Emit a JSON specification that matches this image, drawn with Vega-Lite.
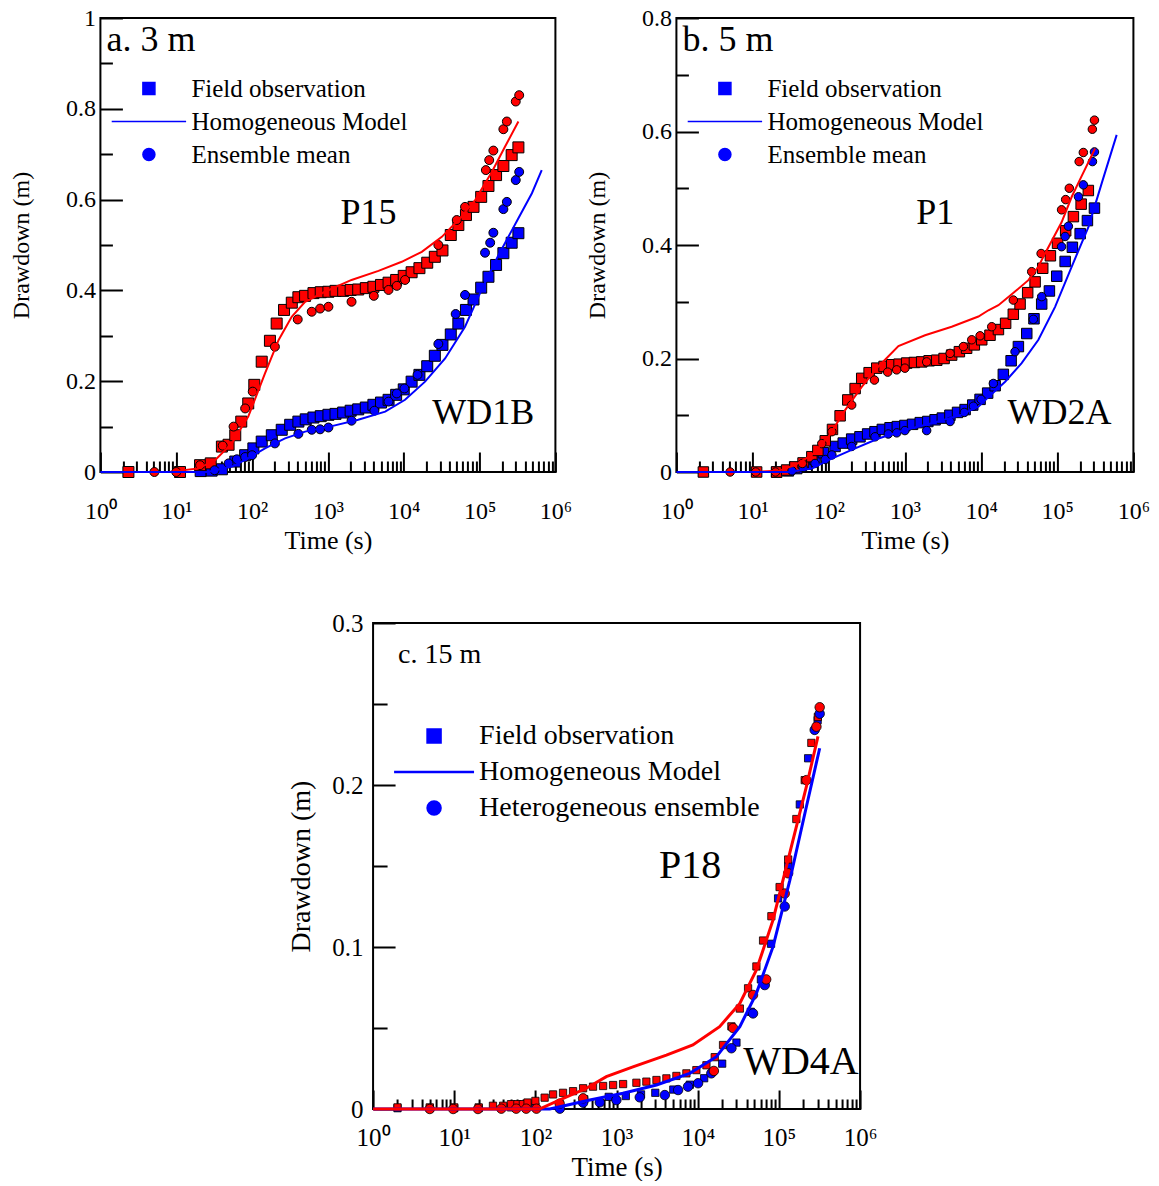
{
  "$schema": "https://vega.github.io/schema/vega-lite/v6.json",
  "padding": {"left": 8, "top": 5, "right": 0, "bottom": 0},
  "config": {
    "view": {"stroke": "#000000", "strokeWidth": 2},
    "font": "Liberation Serif",
    "text": {"font": "Liberation Serif", "color": "#000000"}
  },
  "datasets": {
    "a_model": [
      {"t": 8, "d": 0, "well": "P15"}, {"t": 19.6, "d": 0.008, "well": "P15"}, {"t": 32.5, "d": 0.026, "well": "P15"}, {"t": 54, "d": 0.063, "well": "P15"}, {"t": 89, "d": 0.122, "well": "P15"}, {"t": 148, "d": 0.217, "well": "P15"}, {"t": 224, "d": 0.291, "well": "P15"}, {"t": 333, "d": 0.342, "well": "P15"}, {"t": 500, "d": 0.375, "well": "P15"}, {"t": 915, "d": 0.397, "well": "P15"}, {"t": 2050, "d": 0.423, "well": "P15"}, {"t": 4640, "d": 0.443, "well": "P15"}, {"t": 9400, "d": 0.463, "well": "P15"}, {"t": 17300, "d": 0.485, "well": "P15"}, {"t": 31800, "d": 0.518, "well": "P15"}, {"t": 52500, "d": 0.555, "well": "P15"}, {"t": 87500, "d": 0.599, "well": "P15"}, {"t": 145000, "d": 0.661, "well": "P15"}, {"t": 217000, "d": 0.717, "well": "P15"}, {"t": 325000, "d": 0.772, "well": "P15"},
      {"t": 1, "d": 0, "well": "WD1B"}, {"t": 26, "d": 0, "well": "WD1B"}, {"t": 54, "d": 0.012, "well": "WD1B"}, {"t": 89, "d": 0.03, "well": "WD1B"}, {"t": 148, "d": 0.052, "well": "WD1B"}, {"t": 272, "d": 0.074, "well": "WD1B"}, {"t": 500, "d": 0.089, "well": "WD1B"}, {"t": 1125, "d": 0.101, "well": "WD1B"}, {"t": 2510, "d": 0.115, "well": "WD1B"}, {"t": 5690, "d": 0.133, "well": "WD1B"}, {"t": 10400, "d": 0.159, "well": "WD1B"}, {"t": 19100, "d": 0.199, "well": "WD1B"}, {"t": 35100, "d": 0.25, "well": "WD1B"}, {"t": 64300, "d": 0.32, "well": "WD1B"}, {"t": 106000, "d": 0.401, "well": "WD1B"}, {"t": 178000, "d": 0.478, "well": "WD1B"}, {"t": 325000, "d": 0.559, "well": "WD1B"}, {"t": 490000, "d": 0.614, "well": "WD1B"}, {"t": 660000, "d": 0.665, "well": "WD1B"}
    ],
    "a_sq": [
      {"t": 21, "d": 0.002, "well": "WD1B", "series": "Field observation"}, {"t": 29.3, "d": 0.003, "well": "WD1B", "series": "Field observation"}, {"t": 40, "d": 0.006, "well": "WD1B", "series": "Field observation"}, {"t": 60, "d": 0.023, "well": "WD1B", "series": "Field observation"}, {"t": 81, "d": 0.037, "well": "WD1B", "series": "Field observation"}, {"t": 104, "d": 0.052, "well": "WD1B", "series": "Field observation"}, {"t": 134, "d": 0.067, "well": "WD1B", "series": "Field observation"}, {"t": 182, "d": 0.081, "well": "WD1B", "series": "Field observation"}, {"t": 246, "d": 0.093, "well": "WD1B", "series": "Field observation"}, {"t": 318, "d": 0.104, "well": "WD1B", "series": "Field observation"}, {"t": 408, "d": 0.111, "well": "WD1B", "series": "Field observation"}, {"t": 510, "d": 0.116, "well": "WD1B", "series": "Field observation"}, {"t": 645, "d": 0.12, "well": "WD1B", "series": "Field observation"}, {"t": 804, "d": 0.123, "well": "WD1B", "series": "Field observation"}, {"t": 1016, "d": 0.126, "well": "WD1B", "series": "Field observation"}, {"t": 1260, "d": 0.128, "well": "WD1B", "series": "Field observation"}, {"t": 1590, "d": 0.131, "well": "WD1B", "series": "Field observation"}, {"t": 1995, "d": 0.135, "well": "WD1B", "series": "Field observation"}, {"t": 2510, "d": 0.138, "well": "WD1B", "series": "Field observation"}, {"t": 3160, "d": 0.142, "well": "WD1B", "series": "Field observation"}, {"t": 3980, "d": 0.148, "well": "WD1B", "series": "Field observation"}, {"t": 5010, "d": 0.153, "well": "WD1B", "series": "Field observation"}, {"t": 6310, "d": 0.159, "well": "WD1B", "series": "Field observation"}, {"t": 7940, "d": 0.17, "well": "WD1B", "series": "Field observation"}, {"t": 10000, "d": 0.182, "well": "WD1B", "series": "Field observation"}, {"t": 12700, "d": 0.199, "well": "WD1B", "series": "Field observation"}, {"t": 16100, "d": 0.214, "well": "WD1B", "series": "Field observation"}, {"t": 20400, "d": 0.233, "well": "WD1B", "series": "Field observation"}, {"t": 25700, "d": 0.256, "well": "WD1B", "series": "Field observation"}, {"t": 32400, "d": 0.28, "well": "WD1B", "series": "Field observation"}, {"t": 41700, "d": 0.303, "well": "WD1B", "series": "Field observation"}, {"t": 52500, "d": 0.327, "well": "WD1B", "series": "Field observation"}, {"t": 66100, "d": 0.357, "well": "WD1B", "series": "Field observation"}, {"t": 83200, "d": 0.38, "well": "WD1B", "series": "Field observation"}, {"t": 105000, "d": 0.406, "well": "WD1B", "series": "Field observation"}, {"t": 131000, "d": 0.43, "well": "WD1B", "series": "Field observation"}, {"t": 165000, "d": 0.456, "well": "WD1B", "series": "Field observation"}, {"t": 206000, "d": 0.482, "well": "WD1B", "series": "Field observation"}, {"t": 265000, "d": 0.505, "well": "WD1B", "series": "Field observation"}, {"t": 325000, "d": 0.526, "well": "WD1B", "series": "Field observation"},
      {"t": 2.34, "d": 0, "well": "P15", "series": "Field observation"}, {"t": 11.2, "d": 0, "well": "P15", "series": "Field observation"}, {"t": 20.6, "d": 0.015, "well": "P15", "series": "Field observation"}, {"t": 28.5, "d": 0.019, "well": "P15", "series": "Field observation"}, {"t": 40, "d": 0.056, "well": "P15", "series": "Field observation"}, {"t": 49, "d": 0.06, "well": "P15", "series": "Field observation"}, {"t": 60, "d": 0.081, "well": "P15", "series": "Field observation"}, {"t": 72, "d": 0.111, "well": "P15", "series": "Field observation"}, {"t": 89, "d": 0.151, "well": "P15", "series": "Field observation"}, {"t": 107, "d": 0.192, "well": "P15", "series": "Field observation"}, {"t": 134, "d": 0.243, "well": "P15", "series": "Field observation"}, {"t": 172, "d": 0.289, "well": "P15", "series": "Field observation"}, {"t": 211, "d": 0.327, "well": "P15", "series": "Field observation"}, {"t": 264, "d": 0.357, "well": "P15", "series": "Field observation"}, {"t": 334, "d": 0.373, "well": "P15", "series": "Field observation"}, {"t": 408, "d": 0.385, "well": "P15", "series": "Field observation"}, {"t": 500, "d": 0.388, "well": "P15", "series": "Field observation"}, {"t": 645, "d": 0.394, "well": "P15", "series": "Field observation"}, {"t": 804, "d": 0.396, "well": "P15", "series": "Field observation"}, {"t": 1016, "d": 0.397, "well": "P15", "series": "Field observation"}, {"t": 1260, "d": 0.399, "well": "P15", "series": "Field observation"}, {"t": 1590, "d": 0.399, "well": "P15", "series": "Field observation"}, {"t": 1995, "d": 0.401, "well": "P15", "series": "Field observation"}, {"t": 2510, "d": 0.402, "well": "P15", "series": "Field observation"}, {"t": 3160, "d": 0.405, "well": "P15", "series": "Field observation"}, {"t": 3980, "d": 0.408, "well": "P15", "series": "Field observation"}, {"t": 5010, "d": 0.412, "well": "P15", "series": "Field observation"}, {"t": 6310, "d": 0.417, "well": "P15", "series": "Field observation"}, {"t": 7940, "d": 0.423, "well": "P15", "series": "Field observation"}, {"t": 10000, "d": 0.432, "well": "P15", "series": "Field observation"}, {"t": 12700, "d": 0.44, "well": "P15", "series": "Field observation"}, {"t": 16100, "d": 0.449, "well": "P15", "series": "Field observation"}, {"t": 20400, "d": 0.461, "well": "P15", "series": "Field observation"}, {"t": 25700, "d": 0.474, "well": "P15", "series": "Field observation"}, {"t": 32400, "d": 0.488, "well": "P15", "series": "Field observation"}, {"t": 41700, "d": 0.522, "well": "P15", "series": "Field observation"}, {"t": 52500, "d": 0.544, "well": "P15", "series": "Field observation"}, {"t": 66100, "d": 0.566, "well": "P15", "series": "Field observation"}, {"t": 83200, "d": 0.584, "well": "P15", "series": "Field observation"}, {"t": 105000, "d": 0.606, "well": "P15", "series": "Field observation"}, {"t": 131000, "d": 0.63, "well": "P15", "series": "Field observation"}, {"t": 165000, "d": 0.654, "well": "P15", "series": "Field observation"}, {"t": 206000, "d": 0.674, "well": "P15", "series": "Field observation"}, {"t": 265000, "d": 0.698, "well": "P15", "series": "Field observation"}, {"t": 325000, "d": 0.715, "well": "P15", "series": "Field observation"}
    ],
    "a_ci": [
      {"t": 32, "d": 0.004, "well": "WD1B", "series": "Ensemble mean"}, {"t": 49, "d": 0.019, "well": "WD1B", "series": "Ensemble mean"}, {"t": 63, "d": 0.028, "well": "WD1B", "series": "Ensemble mean"}, {"t": 81, "d": 0.033, "well": "WD1B", "series": "Ensemble mean"}, {"t": 100, "d": 0.037, "well": "WD1B", "series": "Ensemble mean"}, {"t": 200, "d": 0.063, "well": "WD1B", "series": "Ensemble mean"}, {"t": 408, "d": 0.084, "well": "WD1B", "series": "Ensemble mean"}, {"t": 612, "d": 0.093, "well": "WD1B", "series": "Ensemble mean"}, {"t": 789, "d": 0.094, "well": "WD1B", "series": "Ensemble mean"}, {"t": 1016, "d": 0.098, "well": "WD1B", "series": "Ensemble mean"}, {"t": 2050, "d": 0.113, "well": "WD1B", "series": "Ensemble mean"}, {"t": 4100, "d": 0.135, "well": "WD1B", "series": "Ensemble mean"}, {"t": 6300, "d": 0.155, "well": "WD1B", "series": "Ensemble mean"}, {"t": 8100, "d": 0.173, "well": "WD1B", "series": "Ensemble mean"}, {"t": 10200, "d": 0.184, "well": "WD1B", "series": "Ensemble mean"}, {"t": 15200, "d": 0.214, "well": "WD1B", "series": "Ensemble mean"}, {"t": 28600, "d": 0.282, "well": "WD1B", "series": "Ensemble mean"}, {"t": 48400, "d": 0.348, "well": "WD1B", "series": "Ensemble mean"}, {"t": 64300, "d": 0.39, "well": "WD1B", "series": "Ensemble mean"}, {"t": 118000, "d": 0.483, "well": "WD1B", "series": "Ensemble mean"}, {"t": 138000, "d": 0.505, "well": "WD1B", "series": "Ensemble mean"}, {"t": 152000, "d": 0.527, "well": "WD1B", "series": "Ensemble mean"}, {"t": 206000, "d": 0.579, "well": "WD1B", "series": "Ensemble mean"}, {"t": 229000, "d": 0.595, "well": "WD1B", "series": "Ensemble mean"}, {"t": 300000, "d": 0.643, "well": "WD1B", "series": "Ensemble mean"}, {"t": 333000, "d": 0.661, "well": "WD1B", "series": "Ensemble mean"},
      {"t": 5.15, "d": 0, "well": "P15", "series": "Ensemble mean"}, {"t": 10, "d": 0, "well": "P15", "series": "Ensemble mean"}, {"t": 20.6, "d": 0.015, "well": "P15", "series": "Ensemble mean"}, {"t": 41, "d": 0.058, "well": "P15", "series": "Ensemble mean"}, {"t": 57, "d": 0.1, "well": "P15", "series": "Ensemble mean"}, {"t": 81, "d": 0.14, "well": "P15", "series": "Ensemble mean"}, {"t": 102, "d": 0.177, "well": "P15", "series": "Ensemble mean"}, {"t": 200, "d": 0.276, "well": "P15", "series": "Ensemble mean"}, {"t": 400, "d": 0.336, "well": "P15", "series": "Ensemble mean"}, {"t": 612, "d": 0.353, "well": "P15", "series": "Ensemble mean"}, {"t": 789, "d": 0.36, "well": "P15", "series": "Ensemble mean"}, {"t": 1016, "d": 0.364, "well": "P15", "series": "Ensemble mean"}, {"t": 2050, "d": 0.375, "well": "P15", "series": "Ensemble mean"}, {"t": 4030, "d": 0.388, "well": "P15", "series": "Ensemble mean"}, {"t": 6300, "d": 0.401, "well": "P15", "series": "Ensemble mean"}, {"t": 8100, "d": 0.41, "well": "P15", "series": "Ensemble mean"}, {"t": 10400, "d": 0.423, "well": "P15", "series": "Ensemble mean"}, {"t": 28600, "d": 0.5, "well": "P15", "series": "Ensemble mean"}, {"t": 50000, "d": 0.555, "well": "P15", "series": "Ensemble mean"}, {"t": 64300, "d": 0.584, "well": "P15", "series": "Ensemble mean"}, {"t": 121000, "d": 0.665, "well": "P15", "series": "Ensemble mean"}, {"t": 134000, "d": 0.687, "well": "P15", "series": "Ensemble mean"}, {"t": 152000, "d": 0.708, "well": "P15", "series": "Ensemble mean"}, {"t": 206000, "d": 0.755, "well": "P15", "series": "Ensemble mean"}, {"t": 229000, "d": 0.772, "well": "P15", "series": "Ensemble mean"}, {"t": 300000, "d": 0.816, "well": "P15", "series": "Ensemble mean"}, {"t": 333000, "d": 0.83, "well": "P15", "series": "Ensemble mean"}
    ],
    "a_title": [{"t": 1.2, "d": 0.952, "label": "a. 3 m"}],
    "a_lab": [{"t": 3420, "d": 0.57, "label": "P15"}, {"t": 112000, "d": 0.13, "label": "WD1B"}],
    "b_model": [
      {"t": 10, "d": 0, "well": "P1"}, {"t": 22, "d": 0.002, "well": "P1"}, {"t": 36, "d": 0.012, "well": "P1"}, {"t": 60, "d": 0.03, "well": "P1"}, {"t": 99, "d": 0.062, "well": "P1"}, {"t": 164, "d": 0.109, "well": "P1"}, {"t": 271, "d": 0.15, "well": "P1"}, {"t": 449, "d": 0.186, "well": "P1"}, {"t": 822, "d": 0.222, "well": "P1"}, {"t": 1840, "d": 0.241, "well": "P1"}, {"t": 4110, "d": 0.256, "well": "P1"}, {"t": 9220, "d": 0.274, "well": "P1"}, {"t": 12500, "d": 0.285, "well": "P1"}, {"t": 16900, "d": 0.294, "well": "P1"}, {"t": 27900, "d": 0.318, "well": "P1"}, {"t": 41800, "d": 0.338, "well": "P1"}, {"t": 56600, "d": 0.362, "well": "P1"}, {"t": 69200, "d": 0.385, "well": "P1"}, {"t": 114000, "d": 0.44, "well": "P1"}, {"t": 155000, "d": 0.485, "well": "P1"}, {"t": 190000, "d": 0.51, "well": "P1"}, {"t": 314000, "d": 0.57, "well": "P1"},
      {"t": 1, "d": 0, "well": "WD2A"}, {"t": 30, "d": 0, "well": "WD2A"}, {"t": 60, "d": 0.006, "well": "WD2A"}, {"t": 99, "d": 0.021, "well": "WD2A"}, {"t": 200, "d": 0.039, "well": "WD2A"}, {"t": 449, "d": 0.059, "well": "WD2A"}, {"t": 1000, "d": 0.074, "well": "WD2A"}, {"t": 2250, "d": 0.086, "well": "WD2A"}, {"t": 5030, "d": 0.099, "well": "WD2A"}, {"t": 9220, "d": 0.115, "well": "WD2A"}, {"t": 12500, "d": 0.132, "well": "WD2A"}, {"t": 20700, "d": 0.159, "well": "WD2A"}, {"t": 34100, "d": 0.192, "well": "WD2A"}, {"t": 56600, "d": 0.233, "well": "WD2A"}, {"t": 93700, "d": 0.291, "well": "WD2A"}, {"t": 155000, "d": 0.362, "well": "WD2A"}, {"t": 257000, "d": 0.432, "well": "WD2A"}, {"t": 384000, "d": 0.509, "well": "WD2A"}, {"t": 603000, "d": 0.594, "well": "WD2A"}
    ],
    "b_sq": [
      {"t": 20.7, "d": 0, "well": "WD2A", "series": "Field observation"}, {"t": 29.5, "d": 0.002, "well": "WD2A", "series": "Field observation"}, {"t": 38, "d": 0.006, "well": "WD2A", "series": "Field observation"}, {"t": 51, "d": 0.014, "well": "WD2A", "series": "Field observation"}, {"t": 66, "d": 0.022, "well": "WD2A", "series": "Field observation"}, {"t": 85, "d": 0.034, "well": "WD2A", "series": "Field observation"}, {"t": 121, "d": 0.045, "well": "WD2A", "series": "Field observation"}, {"t": 155, "d": 0.051, "well": "WD2A", "series": "Field observation"}, {"t": 200, "d": 0.058, "well": "WD2A", "series": "Field observation"}, {"t": 257, "d": 0.062, "well": "WD2A", "series": "Field observation"}, {"t": 324, "d": 0.067, "well": "WD2A", "series": "Field observation"}, {"t": 405, "d": 0.071, "well": "WD2A", "series": "Field observation"}, {"t": 505, "d": 0.075, "well": "WD2A", "series": "Field observation"}, {"t": 638, "d": 0.078, "well": "WD2A", "series": "Field observation"}, {"t": 795, "d": 0.08, "well": "WD2A", "series": "Field observation"}, {"t": 1000, "d": 0.082, "well": "WD2A", "series": "Field observation"}, {"t": 1260, "d": 0.084, "well": "WD2A", "series": "Field observation"}, {"t": 1590, "d": 0.087, "well": "WD2A", "series": "Field observation"}, {"t": 2000, "d": 0.089, "well": "WD2A", "series": "Field observation"}, {"t": 2490, "d": 0.092, "well": "WD2A", "series": "Field observation"}, {"t": 3100, "d": 0.095, "well": "WD2A", "series": "Field observation"}, {"t": 3900, "d": 0.1, "well": "WD2A", "series": "Field observation"}, {"t": 4910, "d": 0.105, "well": "WD2A", "series": "Field observation"}, {"t": 6170, "d": 0.11, "well": "WD2A", "series": "Field observation"}, {"t": 7770, "d": 0.118, "well": "WD2A", "series": "Field observation"}, {"t": 9700, "d": 0.128, "well": "WD2A", "series": "Field observation"}, {"t": 12200, "d": 0.139, "well": "WD2A", "series": "Field observation"}, {"t": 15300, "d": 0.152, "well": "WD2A", "series": "Field observation"}, {"t": 19600, "d": 0.172, "well": "WD2A", "series": "Field observation"}, {"t": 24800, "d": 0.196, "well": "WD2A", "series": "Field observation"}, {"t": 30900, "d": 0.221, "well": "WD2A", "series": "Field observation"}, {"t": 39800, "d": 0.244, "well": "WD2A", "series": "Field observation"}, {"t": 49500, "d": 0.27, "well": "WD2A", "series": "Field observation"}, {"t": 62500, "d": 0.296, "well": "WD2A", "series": "Field observation"}, {"t": 78900, "d": 0.319, "well": "WD2A", "series": "Field observation"}, {"t": 98500, "d": 0.345, "well": "WD2A", "series": "Field observation"}, {"t": 127000, "d": 0.371, "well": "WD2A", "series": "Field observation"}, {"t": 158000, "d": 0.396, "well": "WD2A", "series": "Field observation"}, {"t": 200000, "d": 0.42, "well": "WD2A", "series": "Field observation"}, {"t": 249000, "d": 0.443, "well": "WD2A", "series": "Field observation"}, {"t": 308000, "d": 0.465, "well": "WD2A", "series": "Field observation"},
      {"t": 2.26, "d": 0, "well": "P1", "series": "Field observation"}, {"t": 11.3, "d": 0, "well": "P1", "series": "Field observation"}, {"t": 20.7, "d": 0, "well": "P1", "series": "Field observation"}, {"t": 28, "d": 0.0035, "well": "P1", "series": "Field observation"}, {"t": 36, "d": 0.009, "well": "P1", "series": "Field observation"}, {"t": 46, "d": 0.016, "well": "P1", "series": "Field observation"}, {"t": 60, "d": 0.027, "well": "P1", "series": "Field observation"}, {"t": 72, "d": 0.038, "well": "P1", "series": "Field observation"}, {"t": 90, "d": 0.055, "well": "P1", "series": "Field observation"}, {"t": 112, "d": 0.075, "well": "P1", "series": "Field observation"}, {"t": 141, "d": 0.099, "well": "P1", "series": "Field observation"}, {"t": 178, "d": 0.127, "well": "P1", "series": "Field observation"}, {"t": 222, "d": 0.147, "well": "P1", "series": "Field observation"}, {"t": 271, "d": 0.165, "well": "P1", "series": "Field observation"}, {"t": 339, "d": 0.175, "well": "P1", "series": "Field observation"}, {"t": 427, "d": 0.183, "well": "P1", "series": "Field observation"}, {"t": 533, "d": 0.186, "well": "P1", "series": "Field observation"}, {"t": 671, "d": 0.189, "well": "P1", "series": "Field observation"}, {"t": 838, "d": 0.19, "well": "P1", "series": "Field observation"}, {"t": 1056, "d": 0.192, "well": "P1", "series": "Field observation"}, {"t": 1333, "d": 0.193, "well": "P1", "series": "Field observation"}, {"t": 1660, "d": 0.194, "well": "P1", "series": "Field observation"}, {"t": 2080, "d": 0.196, "well": "P1", "series": "Field observation"}, {"t": 2620, "d": 0.197, "well": "P1", "series": "Field observation"}, {"t": 3270, "d": 0.2, "well": "P1", "series": "Field observation"}, {"t": 4110, "d": 0.206, "well": "P1", "series": "Field observation"}, {"t": 5190, "d": 0.212, "well": "P1", "series": "Field observation"}, {"t": 6460, "d": 0.218, "well": "P1", "series": "Field observation"}, {"t": 8160, "d": 0.224, "well": "P1", "series": "Field observation"}, {"t": 10200, "d": 0.233, "well": "P1", "series": "Field observation"}, {"t": 13100, "d": 0.241, "well": "P1", "series": "Field observation"}, {"t": 16900, "d": 0.251, "well": "P1", "series": "Field observation"}, {"t": 21000, "d": 0.262, "well": "P1", "series": "Field observation"}, {"t": 26500, "d": 0.278, "well": "P1", "series": "Field observation"}, {"t": 32500, "d": 0.296, "well": "P1", "series": "Field observation"}, {"t": 40900, "d": 0.316, "well": "P1", "series": "Field observation"}, {"t": 51200, "d": 0.335, "well": "P1", "series": "Field observation"}, {"t": 64500, "d": 0.359, "well": "P1", "series": "Field observation"}, {"t": 81300, "d": 0.381, "well": "P1", "series": "Field observation"}, {"t": 101000, "d": 0.403, "well": "P1", "series": "Field observation"}, {"t": 129000, "d": 0.425, "well": "P1", "series": "Field observation"}, {"t": 163000, "d": 0.45, "well": "P1", "series": "Field observation"}, {"t": 206000, "d": 0.472, "well": "P1", "series": "Field observation"}, {"t": 256000, "d": 0.496, "well": "P1", "series": "Field observation"}
    ],
    "b_ci": [
      {"t": 33, "d": 0.002, "well": "WD2A", "series": "Ensemble mean"}, {"t": 46, "d": 0.008, "well": "WD2A", "series": "Ensemble mean"}, {"t": 66, "d": 0.015, "well": "WD2A", "series": "Ensemble mean"}, {"t": 90, "d": 0.022, "well": "WD2A", "series": "Ensemble mean"}, {"t": 110, "d": 0.03, "well": "WD2A", "series": "Ensemble mean"}, {"t": 200, "d": 0.045, "well": "WD2A", "series": "Ensemble mean"}, {"t": 405, "d": 0.062, "well": "WD2A", "series": "Ensemble mean"}, {"t": 605, "d": 0.067, "well": "WD2A", "series": "Ensemble mean"}, {"t": 782, "d": 0.069, "well": "WD2A", "series": "Ensemble mean"}, {"t": 1000, "d": 0.073, "well": "WD2A", "series": "Ensemble mean"}, {"t": 1930, "d": 0.073, "well": "WD2A", "series": "Ensemble mean"}, {"t": 3920, "d": 0.089, "well": "WD2A", "series": "Ensemble mean"}, {"t": 6030, "d": 0.105, "well": "WD2A", "series": "Ensemble mean"}, {"t": 7930, "d": 0.116, "well": "WD2A", "series": "Ensemble mean"}, {"t": 10000, "d": 0.128, "well": "WD2A", "series": "Ensemble mean"}, {"t": 14500, "d": 0.156, "well": "WD2A", "series": "Ensemble mean"}, {"t": 27900, "d": 0.212, "well": "WD2A", "series": "Ensemble mean"}, {"t": 48600, "d": 0.269, "well": "WD2A", "series": "Ensemble mean"}, {"t": 62500, "d": 0.309, "well": "WD2A", "series": "Ensemble mean"}, {"t": 114000, "d": 0.397, "well": "WD2A", "series": "Ensemble mean"}, {"t": 127000, "d": 0.415, "well": "WD2A", "series": "Ensemble mean"}, {"t": 140000, "d": 0.433, "well": "WD2A", "series": "Ensemble mean"}, {"t": 190000, "d": 0.485, "well": "WD2A", "series": "Ensemble mean"}, {"t": 220000, "d": 0.506, "well": "WD2A", "series": "Ensemble mean"}, {"t": 290000, "d": 0.547, "well": "WD2A", "series": "Ensemble mean"}, {"t": 308000, "d": 0.564, "well": "WD2A", "series": "Ensemble mean"},
      {"t": 5.07, "d": 0, "well": "P1", "series": "Ensemble mean"}, {"t": 11, "d": 0, "well": "P1", "series": "Ensemble mean"}, {"t": 20, "d": 0, "well": "P1", "series": "Ensemble mean"}, {"t": 45, "d": 0.015, "well": "P1", "series": "Ensemble mean"}, {"t": 81, "d": 0.05, "well": "P1", "series": "Ensemble mean"}, {"t": 110, "d": 0.071, "well": "P1", "series": "Ensemble mean"}, {"t": 200, "d": 0.118, "well": "P1", "series": "Ensemble mean"}, {"t": 398, "d": 0.162, "well": "P1", "series": "Ensemble mean"}, {"t": 594, "d": 0.176, "well": "P1", "series": "Ensemble mean"}, {"t": 780, "d": 0.18, "well": "P1", "series": "Ensemble mean"}, {"t": 1000, "d": 0.183, "well": "P1", "series": "Ensemble mean"}, {"t": 1930, "d": 0.194, "well": "P1", "series": "Ensemble mean"}, {"t": 3920, "d": 0.209, "well": "P1", "series": "Ensemble mean"}, {"t": 5860, "d": 0.221, "well": "P1", "series": "Ensemble mean"}, {"t": 7540, "d": 0.233, "well": "P1", "series": "Ensemble mean"}, {"t": 9700, "d": 0.24, "well": "P1", "series": "Ensemble mean"}, {"t": 13800, "d": 0.256, "well": "P1", "series": "Ensemble mean"}, {"t": 26500, "d": 0.303, "well": "P1", "series": "Ensemble mean"}, {"t": 46200, "d": 0.353, "well": "P1", "series": "Ensemble mean"}, {"t": 61400, "d": 0.385, "well": "P1", "series": "Ensemble mean"}, {"t": 114000, "d": 0.462, "well": "P1", "series": "Ensemble mean"}, {"t": 129000, "d": 0.48, "well": "P1", "series": "Ensemble mean"}, {"t": 144000, "d": 0.5, "well": "P1", "series": "Ensemble mean"}, {"t": 194000, "d": 0.547, "well": "P1", "series": "Ensemble mean"}, {"t": 220000, "d": 0.563, "well": "P1", "series": "Ensemble mean"}, {"t": 289000, "d": 0.604, "well": "P1", "series": "Ensemble mean"}, {"t": 308000, "d": 0.62, "well": "P1", "series": "Ensemble mean"}
    ],
    "b_title": [{"t": 1.2, "d": 0.761, "label": "b. 5 m"}],
    "b_lab": [{"t": 2510, "d": 0.456, "label": "P1"}, {"t": 107000, "d": 0.104, "label": "WD2A"}],
    "c_model": [
      {"t": 1, "d": 0, "well": "WD4A"}, {"t": 150, "d": 0, "well": "WD4A"}, {"t": 200, "d": 0.0014, "well": "WD4A"}, {"t": 468, "d": 0.0056, "well": "WD4A"}, {"t": 1203, "d": 0.0097, "well": "WD4A"}, {"t": 3100, "d": 0.0148, "well": "WD4A"}, {"t": 7970, "d": 0.022, "well": "WD4A"}, {"t": 17000, "d": 0.0323, "well": "WD4A"}, {"t": 33000, "d": 0.0508, "well": "WD4A"}, {"t": 52800, "d": 0.0714, "well": "WD4A"}, {"t": 84700, "d": 0.1002, "well": "WD4A"}, {"t": 136000, "d": 0.141, "well": "WD4A"}, {"t": 218000, "d": 0.1866, "well": "WD4A"}, {"t": 318000, "d": 0.2227, "well": "WD4A"},
      {"t": 1, "d": 0, "well": "P18"}, {"t": 112, "d": 0, "well": "P18"}, {"t": 200, "d": 0.0056, "well": "P18"}, {"t": 425, "d": 0.0128, "well": "P18"}, {"t": 748, "d": 0.02, "well": "P18"}, {"t": 1590, "d": 0.026, "well": "P18"}, {"t": 4110, "d": 0.0333, "well": "P18"}, {"t": 8710, "d": 0.0395, "well": "P18"}, {"t": 18600, "d": 0.0508, "well": "P18"}, {"t": 33000, "d": 0.0652, "well": "P18"}, {"t": 52800, "d": 0.0858, "well": "P18"}, {"t": 84700, "d": 0.1167, "well": "P18"}, {"t": 136000, "d": 0.158, "well": "P18"}, {"t": 218000, "d": 0.199, "well": "P18"}, {"t": 303000, "d": 0.23, "well": "P18"}
    ],
    "c_sq": [
      {"t": 2, "d": 0.0005, "well": "WD4A", "series": "Field observation"}, {"t": 5, "d": 0.0005, "well": "WD4A", "series": "Field observation"}, {"t": 10, "d": 0.0005, "well": "WD4A", "series": "Field observation"}, {"t": 20, "d": 0.0005, "well": "WD4A", "series": "Field observation"}, {"t": 50, "d": 0.001, "well": "WD4A", "series": "Field observation"}, {"t": 100, "d": 0.0015, "well": "WD4A", "series": "Field observation"}, {"t": 200, "d": 0.003, "well": "WD4A", "series": "Field observation"}, {"t": 400, "d": 0.006, "well": "WD4A", "series": "Field observation"}, {"t": 800, "d": 0.0075, "well": "WD4A", "series": "Field observation"}, {"t": 1300, "d": 0.008, "well": "WD4A", "series": "Field observation"}, {"t": 2000, "d": 0.009, "well": "WD4A", "series": "Field observation"}, {"t": 3000, "d": 0.01, "well": "WD4A", "series": "Field observation"}, {"t": 5000, "d": 0.012, "well": "WD4A", "series": "Field observation"}, {"t": 8000, "d": 0.015, "well": "WD4A", "series": "Field observation"}, {"t": 12000, "d": 0.019, "well": "WD4A", "series": "Field observation"}, {"t": 20000, "d": 0.028, "well": "WD4A", "series": "Field observation"}, {"t": 30000, "d": 0.041, "well": "WD4A", "series": "Field observation"}, {"t": 45000, "d": 0.06, "well": "WD4A", "series": "Field observation"}, {"t": 60000, "d": 0.08, "well": "WD4A", "series": "Field observation"}, {"t": 80000, "d": 0.102, "well": "WD4A", "series": "Field observation"}, {"t": 97700, "d": 0.13, "well": "WD4A", "series": "Field observation"}, {"t": 130000, "d": 0.15, "well": "WD4A", "series": "Field observation"}, {"t": 181000, "d": 0.188, "well": "WD4A", "series": "Field observation"}, {"t": 229000, "d": 0.2165, "well": "WD4A", "series": "Field observation"}, {"t": 300000, "d": 0.24, "well": "WD4A", "series": "Field observation"},
      {"t": 2, "d": 0.001, "well": "P18", "series": "Field observation"}, {"t": 5, "d": 0.001, "well": "P18", "series": "Field observation"}, {"t": 10, "d": 0.001, "well": "P18", "series": "Field observation"}, {"t": 20, "d": 0.001, "well": "P18", "series": "Field observation"}, {"t": 30, "d": 0.002, "well": "P18", "series": "Field observation"}, {"t": 40, "d": 0.002, "well": "P18", "series": "Field observation"}, {"t": 50, "d": 0.003, "well": "P18", "series": "Field observation"}, {"t": 60, "d": 0.003, "well": "P18", "series": "Field observation"}, {"t": 70, "d": 0.003, "well": "P18", "series": "Field observation"}, {"t": 80, "d": 0.004, "well": "P18", "series": "Field observation"}, {"t": 100, "d": 0.005, "well": "P18", "series": "Field observation"}, {"t": 130, "d": 0.007, "well": "P18", "series": "Field observation"}, {"t": 165, "d": 0.009, "well": "P18", "series": "Field observation"}, {"t": 219, "d": 0.01, "well": "P18", "series": "Field observation"}, {"t": 291, "d": 0.011, "well": "P18", "series": "Field observation"}, {"t": 387, "d": 0.0128, "well": "P18", "series": "Field observation"}, {"t": 513, "d": 0.0138, "well": "P18", "series": "Field observation"}, {"t": 682, "d": 0.0142, "well": "P18", "series": "Field observation"}, {"t": 906, "d": 0.0148, "well": "P18", "series": "Field observation"}, {"t": 1203, "d": 0.0154, "well": "P18", "series": "Field observation"}, {"t": 1755, "d": 0.0162, "well": "P18", "series": "Field observation"}, {"t": 2330, "d": 0.0169, "well": "P18", "series": "Field observation"}, {"t": 3100, "d": 0.0179, "well": "P18", "series": "Field observation"}, {"t": 4110, "d": 0.0189, "well": "P18", "series": "Field observation"}, {"t": 5460, "d": 0.0204, "well": "P18", "series": "Field observation"}, {"t": 7250, "d": 0.022, "well": "P18", "series": "Field observation"}, {"t": 9620, "d": 0.024, "well": "P18", "series": "Field observation"}, {"t": 12800, "d": 0.027, "well": "P18", "series": "Field observation"}, {"t": 16200, "d": 0.032, "well": "P18", "series": "Field observation"}, {"t": 20500, "d": 0.0395, "well": "P18", "series": "Field observation"}, {"t": 26000, "d": 0.051, "well": "P18", "series": "Field observation"}, {"t": 33000, "d": 0.062, "well": "P18", "series": "Field observation"}, {"t": 41700, "d": 0.0745, "well": "P18", "series": "Field observation"}, {"t": 52800, "d": 0.088, "well": "P18", "series": "Field observation"}, {"t": 63800, "d": 0.104, "well": "P18", "series": "Field observation"}, {"t": 80800, "d": 0.119, "well": "P18", "series": "Field observation"}, {"t": 102000, "d": 0.137, "well": "P18", "series": "Field observation"}, {"t": 130000, "d": 0.154, "well": "P18", "series": "Field observation"}, {"t": 164000, "d": 0.179, "well": "P18", "series": "Field observation"}, {"t": 208000, "d": 0.203, "well": "P18", "series": "Field observation"}, {"t": 251000, "d": 0.226, "well": "P18", "series": "Field observation"}, {"t": 302000, "d": 0.242, "well": "P18", "series": "Field observation"}
    ],
    "c_ci": [
      {"t": 200, "d": 0.0002, "well": "WD4A", "series": "Heterogeneous ensemble"}, {"t": 387, "d": 0.0039, "well": "WD4A", "series": "Heterogeneous ensemble"}, {"t": 621, "d": 0.0041, "well": "WD4A", "series": "Heterogeneous ensemble"}, {"t": 995, "d": 0.0055, "well": "WD4A", "series": "Heterogeneous ensemble"}, {"t": 1930, "d": 0.0072, "well": "WD4A", "series": "Heterogeneous ensemble"}, {"t": 3930, "d": 0.0086, "well": "WD4A", "series": "Heterogeneous ensemble"}, {"t": 5730, "d": 0.0117, "well": "WD4A", "series": "Heterogeneous ensemble"}, {"t": 7590, "d": 0.0138, "well": "WD4A", "series": "Heterogeneous ensemble"}, {"t": 10100, "d": 0.0159, "well": "WD4A", "series": "Heterogeneous ensemble"}, {"t": 14700, "d": 0.022, "well": "WD4A", "series": "Heterogeneous ensemble"}, {"t": 26000, "d": 0.0375, "well": "WD4A", "series": "Heterogeneous ensemble"}, {"t": 48000, "d": 0.059, "well": "WD4A", "series": "Heterogeneous ensemble"}, {"t": 67000, "d": 0.0765, "well": "WD4A", "series": "Heterogeneous ensemble"}, {"t": 118000, "d": 0.125, "well": "WD4A", "series": "Heterogeneous ensemble"}, {"t": 276000, "d": 0.234, "well": "WD4A", "series": "Heterogeneous ensemble"}, {"t": 318000, "d": 0.244, "well": "WD4A", "series": "Heterogeneous ensemble"},
      {"t": 5, "d": 0, "well": "P18", "series": "Heterogeneous ensemble"}, {"t": 9.7, "d": 0, "well": "P18", "series": "Heterogeneous ensemble"}, {"t": 19.6, "d": 0, "well": "P18", "series": "Heterogeneous ensemble"}, {"t": 38, "d": 0.0002, "well": "P18", "series": "Heterogeneous ensemble"}, {"t": 58, "d": 0.0002, "well": "P18", "series": "Heterogeneous ensemble"}, {"t": 77, "d": 0.0002, "well": "P18", "series": "Heterogeneous ensemble"}, {"t": 103, "d": 0.0002, "well": "P18", "series": "Heterogeneous ensemble"}, {"t": 199, "d": 0.0033, "well": "P18", "series": "Heterogeneous ensemble"}, {"t": 387, "d": 0.0066, "well": "P18", "series": "Heterogeneous ensemble"}, {"t": 15800, "d": 0.0235, "well": "P18", "series": "Heterogeneous ensemble"}, {"t": 27200, "d": 0.05, "well": "P18", "series": "Heterogeneous ensemble"}, {"t": 48000, "d": 0.0704, "well": "P18", "series": "Heterogeneous ensemble"}, {"t": 69700, "d": 0.08, "well": "P18", "series": "Heterogeneous ensemble"}, {"t": 118000, "d": 0.133, "well": "P18", "series": "Heterogeneous ensemble"}, {"t": 130000, "d": 0.1455, "well": "P18", "series": "Heterogeneous ensemble"}, {"t": 218000, "d": 0.203, "well": "P18", "series": "Heterogeneous ensemble"}, {"t": 290000, "d": 0.236, "well": "P18", "series": "Heterogeneous ensemble"}, {"t": 318000, "d": 0.248, "well": "P18", "series": "Heterogeneous ensemble"}
    ],
    "c_title": [{"t": 2.03, "d": 0.28, "label": "c. 15 m"}],
    "c_lab": [{"t": 8040, "d": 0.15, "label": "P18"}, {"t": 187000, "d": 0.029, "label": "WD4A"}]
  },
  "spacing": 56,
  "center": true,
  "resolve": {"scale": {"color": "independent", "stroke": "independent", "shape": "independent"}, "legend": {"shape": "independent"}},
  "vconcat": [
    {
      "hconcat": [
        {
          "width": 455, "height": 454,
          "resolve": {"axis": {"x": "independent", "y": "independent"}},
          "layer": [
            {
              "data": {"name": "a_sq"},
              "mark": {"type": "point", "filled": true, "size": 121, "opacity": 1},
              "encoding": {
                "x": {"field": "t", "type": "quantitative", "scale": {"type": "log", "domain": [1, 1000000], "nice": false},
                  "axis": {"orient": "bottom", "values": [2,3,4,5,6,7,8,9,20,30,40,50,60,70,80,90,200,300,400,500,600,700,800,900,2000,3000,4000,5000,6000,7000,8000,9000,20000,30000,40000,50000,60000,70000,80000,90000,200000,300000,400000,500000,600000,700000,800000,900000], "tickSize": -11, "tickWidth": 2, "tickColor": "#000000", "domain": false, "grid": false, "labels": false, "title": null}},
                "y": {"field": "d", "type": "quantitative", "scale": {"domain": [0, 1], "nice": false},
                  "axis": {"orient": "left", "values": [0.1, 0.3, 0.5, 0.7, 0.9], "tickSize": -12, "tickWidth": 2, "tickColor": "#000000", "domain": false, "grid": false, "labels": false, "title": null}},
                "color": {"field": "well", "type": "nominal", "scale": {"domain": ["P15", "WD1B"], "range": ["#ff0000", "#0000ff"]}, "legend": null},
                "stroke": {"field": "well", "type": "nominal", "scale": {"domain": ["P15", "WD1B"], "range": ["#000000", "#000000"]}, "legend": null},
                "strokeWidth": {"value": 1},
                "shape": {"field": "series", "type": "nominal",
                  "scale": {"domain": ["Field observation", "Homogeneous Model", "Ensemble mean"], "range": ["square", "M-6.2,0H6.2", "circle"]},
                  "legend": {"title": null, "orient": "none", "legendX": 10, "legendY": 58, "padding": 0, "symbolSize": 144, "symbolFillColor": "#0000ff", "symbolStrokeColor": "#0000ff", "symbolStrokeWidth": 1.5, "symbolOffset": 26, "labelOffset": 30, "labelFont": "Liberation Serif", "labelFontSize": 25, "labelColor": "#000000", "labelLimit": 600, "rowPadding": 7}}
              }
            },
            {
              "data": {"name": "a_ci"},
              "mark": {"type": "point", "filled": true, "size": 80, "opacity": 1},
              "encoding": {
                "x": {"field": "t", "type": "quantitative", "axis": null},
                "y": {"field": "d", "type": "quantitative", "axis": null},
                "color": {"field": "well", "type": "nominal", "legend": null},
                "stroke": {"field": "well", "type": "nominal", "legend": null},
                "strokeWidth": {"value": 1},
                "shape": {"field": "series", "type": "nominal"}
              }
            },
            {
              "data": {"name": "a_model"},
              "mark": {"type": "line", "strokeWidth": 2},
              "encoding": {
                "x": {"field": "t", "type": "quantitative",
                  "axis": {"orient": "bottom", "values": [1, 10, 100, 1000, 10000, 100000, 1000000], "labelExpr": "'10' + ['⁰','¹','²','³','⁴','⁵','⁶'][round(log(datum.value)/LN10)]", "tickSize": -20, "tickWidth": 2, "tickColor": "#000000", "domain": false, "grid": false, "labelPadding": 47, "labelFlush": false, "labelOverlap": false, "labelFont": "Liberation Serif", "labelFontSize": 24, "labelColor": "#000000", "title": "Time (s)", "titleFont": "Liberation Serif", "titleFontSize": 26, "titleFontWeight": "normal", "titleColor": "#000000", "titlePadding": 4}},
                "y": {"field": "d", "type": "quantitative",
                  "axis": {"orient": "left", "values": [0, 0.2, 0.4, 0.6, 0.8, 1], "format": "~g", "tickSize": -22, "tickWidth": 2, "tickColor": "#000000", "domain": false, "grid": false, "labelPadding": 27, "labelFlush": false, "labelOverlap": false, "labelFont": "Liberation Serif", "labelFontSize": 24, "labelColor": "#000000", "title": "Drawdown (m)", "titleFont": "Liberation Serif", "titleFontSize": 24, "titleFontWeight": "normal", "titleColor": "#000000", "titlePadding": 32}},
                "color": {"field": "well", "type": "nominal", "legend": null}
              }
            },
            {
              "data": {"name": "a_title"},
              "mark": {"type": "text", "align": "left", "baseline": "middle", "fontSize": 36, "font": "Liberation Serif", "color": "#000000"},
              "encoding": {"x": {"field": "t", "type": "quantitative", "axis": null}, "y": {"field": "d", "type": "quantitative", "axis": null}, "text": {"field": "label"}}
            },
            {
              "data": {"name": "a_lab"},
              "mark": {"type": "text", "align": "center", "baseline": "middle", "fontSize": 36, "font": "Liberation Serif", "color": "#000000"},
              "encoding": {"x": {"field": "t", "type": "quantitative", "axis": null}, "y": {"field": "d", "type": "quantitative", "axis": null}, "text": {"field": "label"}}
            }
          ]
        },
        {
          "width": 457, "height": 454,
          "resolve": {"axis": {"x": "independent", "y": "independent"}},
          "layer": [
            {
              "data": {"name": "b_sq"},
              "mark": {"type": "point", "filled": true, "size": 110, "opacity": 1},
              "encoding": {
                "x": {"field": "t", "type": "quantitative", "scale": {"type": "log", "domain": [1, 1000000], "nice": false},
                  "axis": {"orient": "bottom", "values": [2,3,4,5,6,7,8,9,20,30,40,50,60,70,80,90,200,300,400,500,600,700,800,900,2000,3000,4000,5000,6000,7000,8000,9000,20000,30000,40000,50000,60000,70000,80000,90000,200000,300000,400000,500000,600000,700000,800000,900000], "tickSize": -11, "tickWidth": 2, "tickColor": "#000000", "domain": false, "grid": false, "labels": false, "title": null}},
                "y": {"field": "d", "type": "quantitative", "scale": {"domain": [0, 0.8], "nice": false},
                  "axis": {"orient": "left", "values": [0.1, 0.3, 0.5, 0.7], "tickSize": -12, "tickWidth": 2, "tickColor": "#000000", "domain": false, "grid": false, "labels": false, "title": null}},
                "color": {"field": "well", "type": "nominal", "scale": {"domain": ["P1", "WD2A"], "range": ["#ff0000", "#0000ff"]}, "legend": null},
                "stroke": {"field": "well", "type": "nominal", "scale": {"domain": ["P1", "WD2A"], "range": ["#000000", "#000000"]}, "legend": null},
                "strokeWidth": {"value": 1},
                "shape": {"field": "series", "type": "nominal",
                  "scale": {"domain": ["Field observation", "Homogeneous Model", "Ensemble mean"], "range": ["square", "M-6.2,0H6.2", "circle"]},
                  "legend": {"title": null, "orient": "none", "legendX": 10, "legendY": 58, "padding": 0, "symbolSize": 144, "symbolFillColor": "#0000ff", "symbolStrokeColor": "#0000ff", "symbolStrokeWidth": 1.5, "symbolOffset": 26, "labelOffset": 30, "labelFont": "Liberation Serif", "labelFontSize": 25, "labelColor": "#000000", "labelLimit": 600, "rowPadding": 7}}
              }
            },
            {
              "data": {"name": "b_ci"},
              "mark": {"type": "point", "filled": true, "size": 72, "opacity": 1},
              "encoding": {
                "x": {"field": "t", "type": "quantitative", "axis": null},
                "y": {"field": "d", "type": "quantitative", "axis": null},
                "color": {"field": "well", "type": "nominal", "legend": null},
                "stroke": {"field": "well", "type": "nominal", "legend": null},
                "strokeWidth": {"value": 1},
                "shape": {"field": "series", "type": "nominal"}
              }
            },
            {
              "data": {"name": "b_model"},
              "mark": {"type": "line", "strokeWidth": 2},
              "encoding": {
                "x": {"field": "t", "type": "quantitative",
                  "axis": {"orient": "bottom", "values": [1, 10, 100, 1000, 10000, 100000, 1000000], "labelExpr": "'10' + ['⁰','¹','²','³','⁴','⁵','⁶'][round(log(datum.value)/LN10)]", "tickSize": -20, "tickWidth": 2, "tickColor": "#000000", "domain": false, "grid": false, "labelPadding": 47, "labelFlush": false, "labelOverlap": false, "labelFont": "Liberation Serif", "labelFontSize": 24, "labelColor": "#000000", "title": "Time (s)", "titleFont": "Liberation Serif", "titleFontSize": 26, "titleFontWeight": "normal", "titleColor": "#000000", "titlePadding": 4}},
                "y": {"field": "d", "type": "quantitative",
                  "axis": {"orient": "left", "values": [0, 0.2, 0.4, 0.6, 0.8], "format": "~g", "tickSize": -22, "tickWidth": 2, "tickColor": "#000000", "domain": false, "grid": false, "labelPadding": 27, "labelFlush": false, "labelOverlap": false, "labelFont": "Liberation Serif", "labelFontSize": 24, "labelColor": "#000000", "title": "Drawdown (m)", "titleFont": "Liberation Serif", "titleFontSize": 24, "titleFontWeight": "normal", "titleColor": "#000000", "titlePadding": 32}},
                "color": {"field": "well", "type": "nominal", "legend": null}
              }
            },
            {
              "data": {"name": "b_title"},
              "mark": {"type": "text", "align": "left", "baseline": "middle", "fontSize": 36, "font": "Liberation Serif", "color": "#000000"},
              "encoding": {"x": {"field": "t", "type": "quantitative", "axis": null}, "y": {"field": "d", "type": "quantitative", "axis": null}, "text": {"field": "label"}}
            },
            {
              "data": {"name": "b_lab"},
              "mark": {"type": "text", "align": "center", "baseline": "middle", "fontSize": 36, "font": "Liberation Serif", "color": "#000000"},
              "encoding": {"x": {"field": "t", "type": "quantitative", "axis": null}, "y": {"field": "d", "type": "quantitative", "axis": null}, "text": {"field": "label"}}
            }
          ]
        }
      ],
      "spacing": 121,
      "bounds": "flush",
      "resolve": {"scale": {"color": "independent", "stroke": "independent", "shape": "independent"}, "legend": {"shape": "independent"}}
    },
    {
      "width": 487, "height": 486,
      "resolve": {"axis": {"x": "independent", "y": "independent"}},
      "layer": [
        {
          "data": {"name": "c_sq"},
          "mark": {"type": "point", "filled": true, "size": 53, "opacity": 1},
          "encoding": {
            "x": {"field": "t", "type": "quantitative", "scale": {"type": "log", "domain": [1, 1000000], "nice": false},
              "axis": {"orient": "bottom", "values": [2,3,4,5,6,7,8,9,20,30,40,50,60,70,80,90,200,300,400,500,600,700,800,900,2000,3000,4000,5000,6000,7000,8000,9000,20000,30000,40000,50000,60000,70000,80000,90000,200000,300000,400000,500000,600000,700000,800000,900000], "tickSize": -10, "tickWidth": 2, "tickColor": "#000000", "domain": false, "grid": false, "labels": false, "title": null}},
            "y": {"field": "d", "type": "quantitative", "scale": {"domain": [0, 0.3], "nice": false},
              "axis": {"orient": "left", "values": [0.05, 0.15, 0.25], "tickSize": -14, "tickWidth": 2, "tickColor": "#000000", "domain": false, "grid": false, "labels": false, "title": null}},
            "color": {"field": "well", "type": "nominal", "scale": {"domain": ["P18", "WD4A"], "range": ["#ff0000", "#0000ff"]}, "legend": null},
            "stroke": {"field": "well", "type": "nominal", "scale": {"domain": ["P18", "WD4A"], "range": ["#000000", "#000000"]}, "legend": null},
            "strokeWidth": {"value": 0.8},
            "shape": {"field": "series", "type": "nominal",
              "scale": {"domain": ["Field observation", "Homogeneous Model", "Heterogeneous ensemble"], "range": ["square", "M-6.15,0H6.15", "circle"]},
              "legend": {"title": null, "orient": "none", "legendX": 20, "legendY": 99, "padding": 0, "symbolSize": 169, "symbolFillColor": "#0000ff", "symbolStrokeColor": "#0000ff", "symbolStrokeWidth": 2.5, "symbolOffset": 27, "labelOffset": 31, "labelFont": "Liberation Serif", "labelFontSize": 28, "labelColor": "#000000", "labelLimit": 600, "rowPadding": 8}}
          }
        },
        {
          "data": {"name": "c_ci"},
          "mark": {"type": "point", "filled": true, "size": 90, "opacity": 1},
          "encoding": {
            "x": {"field": "t", "type": "quantitative", "axis": null},
            "y": {"field": "d", "type": "quantitative", "axis": null},
            "color": {"field": "well", "type": "nominal", "legend": null},
            "stroke": {"field": "well", "type": "nominal", "legend": null},
            "strokeWidth": {"value": 0.8},
            "shape": {"field": "series", "type": "nominal"}
          }
        },
        {
          "data": {"name": "c_model"},
          "mark": {"type": "line", "strokeWidth": 3},
          "encoding": {
            "x": {"field": "t", "type": "quantitative",
              "axis": {"orient": "bottom", "values": [1, 10, 100, 1000, 10000, 100000, 1000000], "labelExpr": "'10' + ['⁰','¹','²','³','⁴','⁵','⁶'][round(log(datum.value)/LN10)]", "tickSize": -19, "tickWidth": 2, "tickColor": "#000000", "domain": false, "grid": false, "labelPadding": 35, "labelFlush": false, "labelOverlap": false, "labelFont": "Liberation Serif", "labelFontSize": 25, "labelColor": "#000000", "title": "Time (s)", "titleFont": "Liberation Serif", "titleFontSize": 27, "titleFontWeight": "normal", "titleColor": "#000000", "titlePadding": 4}},
            "y": {"field": "d", "type": "quantitative",
              "axis": {"orient": "left", "values": [0, 0.1, 0.2, 0.3], "format": "~g", "tickSize": -22, "tickWidth": 2, "tickColor": "#000000", "domain": false, "grid": false, "labelPadding": 32, "labelFlush": false, "labelOverlap": false, "labelFont": "Liberation Serif", "labelFontSize": 25, "labelColor": "#000000", "title": "Drawdown (m)", "titleFont": "Liberation Serif", "titleFontSize": 28, "titleFontWeight": "normal", "titleColor": "#000000", "titlePadding": 16}},
            "color": {"field": "well", "type": "nominal", "legend": null}
          }
        },
        {
          "data": {"name": "c_title"},
          "mark": {"type": "text", "align": "left", "baseline": "middle", "fontSize": 28, "font": "Liberation Serif", "color": "#000000"},
          "encoding": {"x": {"field": "t", "type": "quantitative", "axis": null}, "y": {"field": "d", "type": "quantitative", "axis": null}, "text": {"field": "label"}}
        },
        {
          "data": {"name": "c_lab"},
          "mark": {"type": "text", "align": "center", "baseline": "middle", "fontSize": 40, "font": "Liberation Serif", "color": "#000000"},
          "encoding": {"x": {"field": "t", "type": "quantitative", "axis": null}, "y": {"field": "d", "type": "quantitative", "axis": null}, "text": {"field": "label"}}
        }
      ]
    }
  ]
}
